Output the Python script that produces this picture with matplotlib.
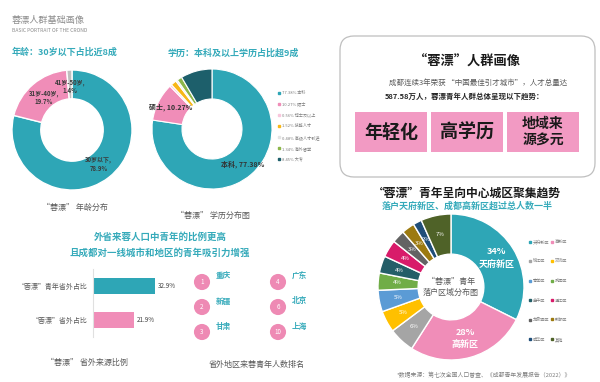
import matplotlib.pyplot as plt
from matplotlib.lines import Line2D
from matplotlib.patches import FancyBboxPatch, Rectangle

plt.rcParams['font.family'] = ['Noto Sans CJK SC', 'DejaVu Sans']

W, H = 600, 382
TEAL = '#2EA6B6'
TEAL_TXT = '#35AABA'
PINK = '#F08DB8'
GRAY = '#595959'

# data
age_labels = ['30岁以下', '31岁-40岁', '41岁-50岁']
age_share = [78.9, 19.7, 1.4]

edu_labels = ['本科', '硕士', '博士及以上', '技能人才', '高级人才引进', '海外留学', '大专']
edu_share = [77.38, 10.27, 0.56, 1.52, 0.48, 1.34, 8.45]

district_labels = ['天府新区', '高新区', '锦江区', '双流区', '青羊区', '武侯区',
                   '金牛区', '温江区', '龙泉驿区', '新都区', '成华区', '其他']
district_share = [34, 28, 6, 5, 5, 4, 4, 4, 3, 3, 2, 7]

source_groups = ['“蓉漂”青年省外占比', '“蓉漂”省外占比']
source_share = [32.9, 21.9]

rank_cities = ['重庆', '新疆', '甘肃', '广东', '北京', '上海']
rank_numbers = [1, 2, 3, 4, 6, 10]

trends = ['年轻化', '高学历', '地域来\n源多元']

age_colors = [TEAL, PINK, '#BFBFBF']
edu_colors = [TEAL, PINK, '#F9C6DC', '#F7B718', '#E4E4E4', '#8CB64A', '#1D5F6B']
district_colors = [TEAL, PINK, '#A5A5A5', '#FFC000', '#5B9BD5', '#70AD47',
                   '#245E68', '#D81B6A', '#636363', '#9C7A10', '#1F4E79', '#4F6228']

fig = plt.figure(figsize=(W / 100, H / 100), dpi=100)


def px_axes(x, y, w, h):
    return fig.add_axes([x / W, 1 - (y + h) / H, w / W, h / H])


# overlay in pixel coordinates for titles and boxes
ov = px_axes(0, 0, W, H)
ov.set_xlim(0, W)
ov.set_ylim(H, 0)
ov.axis('off')

ov.text(12, 21, '蓉漂人群基础画像', fontsize=6.6, color='#8C8C8C', va='center')
ov.text(12, 31, 'BASIC PORTRAIT OF THE CROND', fontsize=3.6, color='#8C8C8C', va='center')
ov.text(12, 52, '年龄：30岁以下占比近8成', fontsize=6.5, color=TEAL_TXT, fontweight='bold', va='center')
ov.text(233, 53, '学历：本科及以上学历占比超9成', fontsize=6.5, color=TEAL_TXT, fontweight='bold',
        va='center', ha='center')
ov.text(75, 207, '“蓉漂” 年龄分布', fontsize=5.8, color=GRAY, ha='center', va='center')
ov.text(213, 215, '“蓉漂” 学历分布图', fontsize=5.8, color=GRAY, ha='center', va='center')

# top-right summary card
ov.add_patch(FancyBboxPatch((340, 36), 255, 141, boxstyle='round,pad=0,rounding_size=14',
                            facecolor='white', edgecolor='#BFBFBF', linewidth=0.9))
ov.text(467, 62, '“蓉漂”人群画像', fontsize=9.5, fontweight='bold', color='#1A1A1A',
        ha='center', va='center')
ov.text(478, 83, '成都连续3年荣获 “中国最佳引才城市”，人才总量达', fontsize=5.4, color=GRAY,
        ha='center', va='center')
ov.text(465, 96, '587.58万人，蓉漂青年人群总体呈现以下趋势：', fontsize=5.4, color='#262626',
        fontweight='bold', ha='center', va='center')
for i, t in enumerate(trends):
    x0 = 355 + i * 76
    ov.add_patch(Rectangle((x0, 112), 72, 40, facecolor='#F29AC3', edgecolor='none'))
    ov.text(x0 + 36, 132, t, fontsize=13 if '\n' not in t else 10, fontweight='bold',
            color='#1A1A1A', ha='center', va='center', linespacing=1.1)

# bottom-right titles
ov.text(467, 193, '“蓉漂”青年呈向中心城区聚集趋势', fontsize=8.5, fontweight='bold',
        color='#1A1A1A', ha='center', va='center')
ov.text(467, 206, '落户天府新区、成都高新区超过总人数一半', fontsize=6.5, fontweight='bold',
        color=TEAL_TXT, ha='center', va='center')
ov.text(484, 375, '*数据来源：第七次全国人口普查、《成都青年发展报告（2022）》', fontsize=4.2,
        color='#7F7F7F', ha='center', va='center')

# bottom-left titles
ov.text(160, 237, '外省来蓉人口中青年的比例更高', fontsize=6.8, fontweight='bold',
        color=TEAL_TXT, ha='center', va='center')
ov.text(160, 253, '且成都对一线城市和地区的青年吸引力增强', fontsize=6.8, fontweight='bold',
        color=TEAL_TXT, ha='center', va='center')
ov.text(87, 362, '“蓉漂” 省外来源比例', fontsize=5.8, color=GRAY, ha='center', va='center')
ov.text(257, 365, '省外地区来蓉青年人数排名', fontsize=5.8, color=GRAY, ha='center', va='center')

# ranking circles
for i, (city, num) in enumerate(zip(rank_cities, rank_numbers)):
    cx = 202 + (i // 3) * 76
    cy = 282 + (i % 3) * 25
    ov.scatter([cx], [cy], s=135, color='#EE8AB4', edgecolors='none', zorder=3)
    ov.text(cx, cy, str(num), fontsize=4.5, color='white', ha='center', va='center', zorder=4)
    ov.text(cx + 14, cy - 6, city, fontsize=5.5, color=TEAL_TXT, fontweight='bold',
            ha='left', va='center')

# age donut
ax = px_axes(12, 70, 120, 120)
wedges, texts = ax.pie(age_share, labels=[f'{l},\n{v}%' for l, v in zip(age_labels, age_share)],
                       colors=age_colors, startangle=90, counterclock=False, labeldistance=0.72,
                       wedgeprops=dict(width=0.48, edgecolor='white', linewidth=1),
                       textprops=dict(fontsize=4.3, color='#3A3A3A', fontweight='bold'))
for t in texts:
    t.set_ha('center')
    t.set_va('center')
ax.set_xlim(-1, 1)
ax.set_ylim(-1, 1)

# education donut
ax = px_axes(152, 69, 120, 120)
wedges, texts = ax.pie(edu_share,
                       labels=[f'{l}, {v}%' if v > 10 else '' for l, v in zip(edu_labels, edu_share)],
                       colors=edu_colors, startangle=90, counterclock=False, labeldistance=0.78,
                       wedgeprops=dict(width=0.5, edgecolor='white', linewidth=0.8),
                       textprops=dict(fontsize=5, color='#333333', fontweight='bold'))
for t in texts:
    t.set_ha('center')
    t.set_va('center')
ax.set_xlim(-1, 1)
ax.set_ylim(-1, 1)
handles = [Line2D([], [], marker='s', ls='', color=c, markersize=1.8) for c in edu_colors]
ax.legend(handles, [f'{v}% {l}' for l, v in zip(edu_labels, edu_share)], loc='upper left',
          bbox_to_anchor=(276 / W, 1 - 89 / H), bbox_transform=fig.transFigure,
          frameon=False, fontsize=3, labelspacing=1.55, handlelength=0.6,
          handletextpad=0.3, borderpad=0, labelcolor='#7F7F7F')

# district donut
ax = px_axes(378, 214, 146, 146)
dist_texts = [f'{v}%\n{l}' if v > 20 else f'{v}%' for l, v in zip(district_labels, district_share)]
wedges, texts = ax.pie(district_share, labels=dist_texts, colors=district_colors, startangle=90,
                       counterclock=False, labeldistance=0.74,
                       wedgeprops=dict(width=0.55, edgecolor='white', linewidth=1),
                       textprops=dict(fontsize=4.3, color='white'))
for t, v in zip(texts, district_share):
    t.set_ha('center')
    t.set_va('center')
    if v > 20:
        t.set_fontsize(6.5)
        t.set_fontweight('bold')
        t.set_linespacing(1.6)
ax.text(0, 0, '“蓉漂”青年\n落户区域分布图', fontsize=5.8, color=GRAY, ha='center', va='center')
ax.set_xlim(-1, 1)
ax.set_ylim(-1, 1)
order = [0, 2, 4, 6, 8, 10, 1, 3, 5, 7, 9, 11]
handles = [Line2D([], [], marker='s', ls='', color=district_colors[i], markersize=1.8) for i in order]
ax.legend(handles, [district_labels[i] for i in order], ncol=2, loc='upper left',
          bbox_to_anchor=(527 / W, 1 - 237 / H), bbox_transform=fig.transFigure,
          frameon=False, fontsize=3, labelspacing=3.7, handlelength=0.6,
          handletextpad=0.3, columnspacing=0.4, borderpad=0, labelcolor='#7F7F7F')

# source bars
ax = px_axes(93, 269, 75, 68)
bars = ax.barh(range(len(source_share)), source_share, height=0.47, color=[TEAL, PINK])
ax.bar_label(bars, labels=[f'{v}%' for v in source_share], padding=2, fontsize=4.5, color='#404040')
ax.set_xlim(0, 40)
ax.set_ylim(1.5, -0.5)
ax.set_yticks(range(len(source_groups)), source_groups, fontsize=5, color=GRAY)
ax.set_xticks([])
ax.tick_params(axis='y', length=0, pad=4)
for s in ['top', 'right', 'bottom']:
    ax.spines[s].set_visible(False)
ax.spines['left'].set_color('#E0E0E0')
ax.patch.set_alpha(0)

fig.savefig('out.png', dpi=100, facecolor='white')
